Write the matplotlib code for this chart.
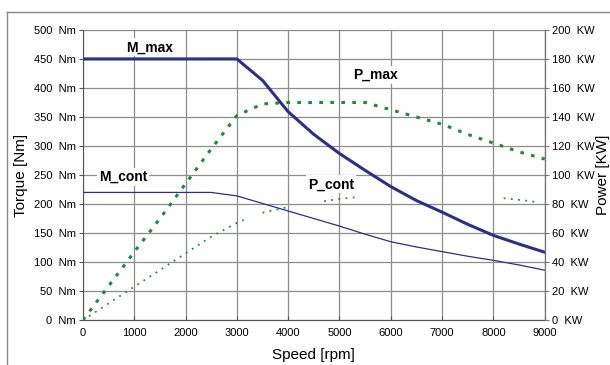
import numpy as np
import matplotlib
matplotlib.use("Agg")
import matplotlib.pyplot as plt
from matplotlib.lines import Line2D

plt.rcParams['font.family'] = ['Liberation Sans', 'DejaVu Sans']

rpm = [0, 500, 1000, 1500, 2000, 2500, 3000, 3500, 4000, 4500, 5000, 5500,
       6000, 6500, 7000, 7500, 8000, 8500, 9000]
m_max = [450, 450, 450, 450, 450, 450, 450, 413, 359, 320, 287, 258,
         230, 206, 186, 165, 146, 131, 117]
m_cont = [220, 220, 220, 220, 220, 220, 214, 201, 188, 175, 162, 148,
          135, 126, 118, 110, 103, 95, 86]
p_max = [0, 23.5, 47, 70, 94, 118, 141, 149, 150, 150, 150, 150,
         145, 140, 135, 128, 122, 116, 111]
rpm_pc = [0, 500, 1000, 1500, 2000, 2500, 3000, 3200, 3300, 3500, 4000, 4300,
          4700, 5000, 5400, 6000, 8200, 8600, 8900]
p_cont = [0, 11.5, 23, 34.5, 46, 57.5, 67, 70, np.nan, 74, 78, np.nan,
          82, 83.5, 85, np.nan, 84, 82.5, 81]

torque_ticks = list(range(0, 501, 50))
power_ticks = list(range(0, 201, 20))
speed_ticks = list(range(0, 9001, 1000))

fig = plt.figure(figsize=(6.10, 3.65), dpi=100)
ax = fig.add_axes([0.136, 0.123, 0.757, 0.795])
ax2 = ax.twinx()

navy = '#2b2f8a'
green = '#1f8a3c'

ax.plot(rpm, m_max, color=navy, lw=2.2, zorder=3)
ax.plot(rpm, m_cont, color=navy, lw=0.9, zorder=3)
ax2.plot(rpm, p_max, color=green, lw=2.2, ls=(0, (1.2, 2.4)), zorder=3)
ax2.plot(rpm_pc, p_cont, color=green, lw=1.3, ls=(0, (1, 3)), zorder=3)

ax.set_xlim(0, 9000)
ax.set_ylim(0, 500)
ax2.set_ylim(0, 200)
ax.set_xticks(speed_ticks)
ax.set_xticklabels([str(v) for v in speed_ticks])
ax.set_yticks(torque_ticks)
ax.set_yticklabels([f"{v}  Nm" for v in torque_ticks])
ax2.set_yticks(power_ticks)
ax2.set_yticklabels([f"{v}  KW" for v in power_ticks])

ax.grid(True, color='#8c8c8c', lw=0.9)
ax.set_axisbelow(True)
for s in ['top']:
    ax.spines[s].set_visible(False)
    ax2.spines[s].set_visible(False)
ax.spines['left'].set_color('#555555')
ax.spines['bottom'].set_color('#555555')
ax2.spines['right'].set_color('#777777')
ax2.spines['left'].set_visible(False)
ax2.spines['bottom'].set_visible(False)

ax.tick_params(axis='y', labelsize=8, length=3, color='#555555', pad=2)
ax.tick_params(axis='x', labelsize=8, length=3, direction='in', color='#555555', pad=6)
ax2.tick_params(axis='y', labelsize=8, length=3, color='#777777', pad=2)

ax.set_xlabel('Speed [rpm]', fontsize=11, labelpad=7)
ax.set_ylabel('Torque [Nm]', fontsize=11, labelpad=4)
ax2.set_ylabel('Power [KW]', fontsize=11, labelpad=1)

box = dict(facecolor='white', edgecolor='none', pad=1.5)
ax.text(1300, 470, 'M_max', fontsize=10, fontweight='bold', ha='center', va='center', bbox=box, zorder=4)
ax.text(5700, 422, 'P_max', fontsize=10, fontweight='bold', ha='center', va='center', bbox=box, zorder=4)
ax.text(780, 247, 'M_cont', fontsize=10, fontweight='bold', ha='center', va='center', bbox=box, zorder=4)
ax.text(4830, 234, 'P_cont', fontsize=10, fontweight='bold', ha='center', va='center', bbox=box, zorder=4)

# outer frame
fig.add_artist(Line2D([7/610, 1.0], [1 - 12/365, 1 - 12/365], transform=fig.transFigure, color='#888888', lw=1))
fig.add_artist(Line2D([7/610, 7/610], [0, 1 - 12/365], transform=fig.transFigure, color='#888888', lw=1))

fig.savefig('out.png', dpi=100)
